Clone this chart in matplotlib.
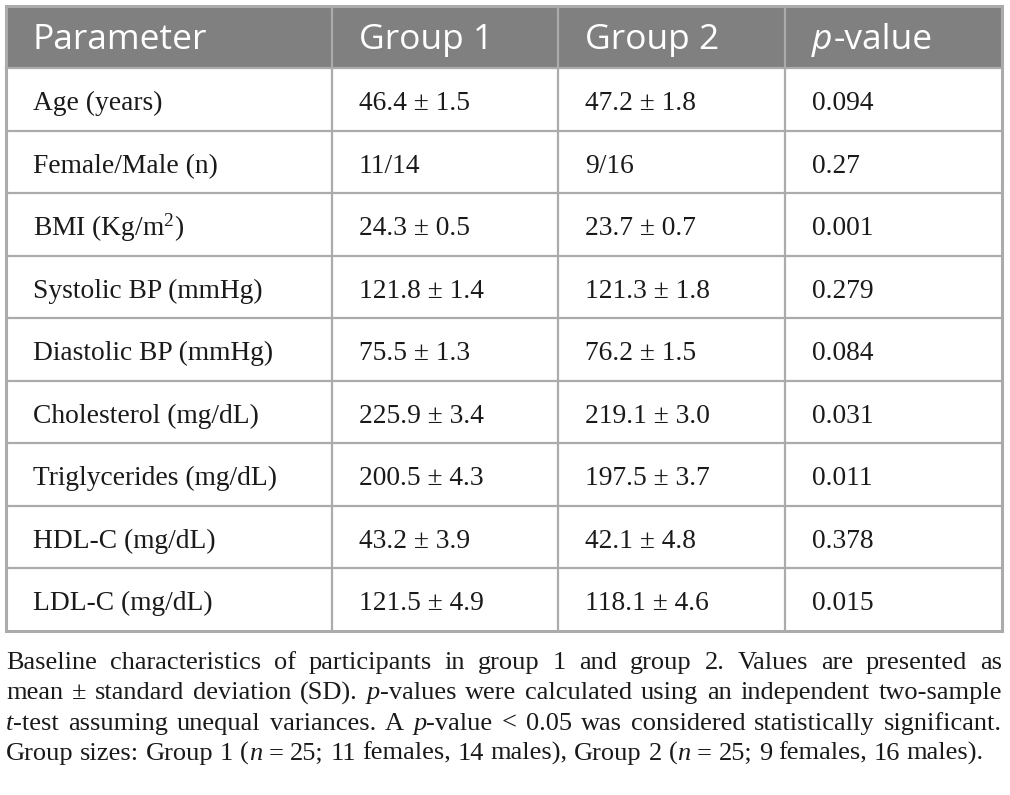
import matplotlib
matplotlib.use("Agg")
import matplotlib.pyplot as plt
from matplotlib.patches import Rectangle

plt.rcParams['mathtext.fontset'] = 'custom'
plt.rcParams['mathtext.rm'] = 'Liberation Serif'
plt.rcParams['mathtext.it'] = 'Liberation Serif:italic'

#---- table data
headers = ["Parameter", "Group 1", "Group 2", "p-value"]
parameters = ["Age (years)", "Female/Male (n)", "BMI (Kg/m$^{2}$)", "Systolic BP (mmHg)",
              "Diastolic BP (mmHg)", "Cholesterol (mg/dL)", "Triglycerides (mg/dL)",
              "HDL-C (mg/dL)", "LDL-C (mg/dL)"]
group1 = ["46.4 ± 1.5", "11/14", "24.3 ± 0.5", "121.8 ± 1.4", "75.5 ± 1.3",
          "225.9 ± 3.4", "200.5 ± 4.3", "43.2 ± 3.9", "121.5 ± 4.9"]
group2 = ["47.2 ± 1.8", "9/16", "23.7 ± 0.7", "121.3 ± 1.8", "76.2 ± 1.5",
          "219.1 ± 3.0", "197.5 ± 3.7", "42.1 ± 4.8", "118.1 ± 4.6"]
pvalues = ["0.094", "0.27", "0.001", "0.279", "0.084", "0.031", "0.011", "0.378", "0.015"]

# caption lines, "_" marks italic segments
caption = [
    "Baseline characteristics of participants in group 1 and group 2. Values are presented as",
    "mean ± standard deviation (SD). _p_-values were calculated using an independent two-sample",
    "_t_-test assuming unequal variances. A _p_-value < 0.05 was considered statistically significant.",
    "Group sizes: Group 1 (_n_ = 25; 11 females, 14 males), Group 2 (_n_ = 25; 9 females, 16 males).",
]

#---- layout
W, H = 1010, 795
left, right, top = 6, 1002, 6
head_h, row_h = 62, 62.5
col_x = [6, 332, 558, 785, 1002]
pad = 27
line_col = "#ababab"
head_col = "#808080"
serif = "Liberation Serif"
sans = "Open Sans"
head_fs = 25.5
body_fs = 19.8

fig = plt.figure(figsize=(W / 100, H / 100), dpi=100)
ax = fig.add_axes([0, 0, 1, 1])
ax.set_xlim(0, W)
ax.set_ylim(H, 0)
ax.axis("off")
renderer = fig.canvas.get_renderer()

nrows = len(parameters)
bottom = top + head_h + nrows * row_h

ax.add_patch(Rectangle((left, top), right - left, head_h, facecolor=head_col, edgecolor="none"))

# header text
for i, h in enumerate(headers):
    x = col_x[i] + pad
    yb = top + 43
    if h.startswith("p-"):
        t1 = ax.text(x, yb, "p", fontsize=head_fs, family=sans, style="italic", color="white",
                     va="baseline")
        w = t1.get_window_extent(renderer).width
        ax.text(x + w + 1, yb, h[1:], fontsize=head_fs, family=sans, color="white", va="baseline")
    else:
        ax.text(x, yb, h, fontsize=head_fs, family=sans, color="white", va="baseline")

# body rows
columns = [parameters, group1, group2, pvalues]
for r in range(nrows):
    y0 = top + head_h + r * row_h
    for c, col in enumerate(columns):
        ax.text(col_x[c] + pad, y0 + row_h / 2 + 11, col[r], fontsize=body_fs, family=serif,
                color="#1a1a1a", va="baseline")

# grid lines
for r in range(1, nrows):
    y = top + head_h + r * row_h
    ax.plot([left, right], [y, y], color=line_col, lw=1.6, solid_capstyle="butt")
ax.plot([left, right], [top + head_h, top + head_h], color=line_col, lw=1.6)
for x in col_x[1:-1]:
    ax.plot([x, x], [top, bottom], color=line_col, lw=1.6, solid_capstyle="butt")
ax.add_patch(Rectangle((left, top), right - left, bottom - top, facecolor="none",
                       edgecolor=line_col, lw=2.2))

#---- caption, justified
def segments(word):
    parts = word.split("_")
    return [(p, i % 2 == 1) for i, p in enumerate(parts) if p]

cap_fs = 19
space = cap_fs * 1.389 * 0.25
base0, lead = 669, 30.3
for li, line in enumerate(caption):
    y = base0 + li * lead
    words = line.split(" ")
    items = []
    for wd in words:
        texts = []
        for s, it in segments(wd):
            t = ax.text(0, y, s, fontsize=cap_fs, family=serif, style="italic" if it else "normal",
                        color="#1a1a1a", va="baseline")
            texts.append((t, t.get_window_extent(renderer).width))
        items.append(texts)
    widths = [sum(w for _, w in texts) for texts in items]
    if li < len(caption) - 1:
        gap = (right - left - sum(widths)) / (len(words) - 1)
    else:
        gap = space
    x = left
    for texts, wsum in zip(items, widths):
        xx = x
        for t, w in texts:
            t.set_x(xx)
            xx += w
        x += wsum + gap

fig.savefig("out.png", dpi=100)
